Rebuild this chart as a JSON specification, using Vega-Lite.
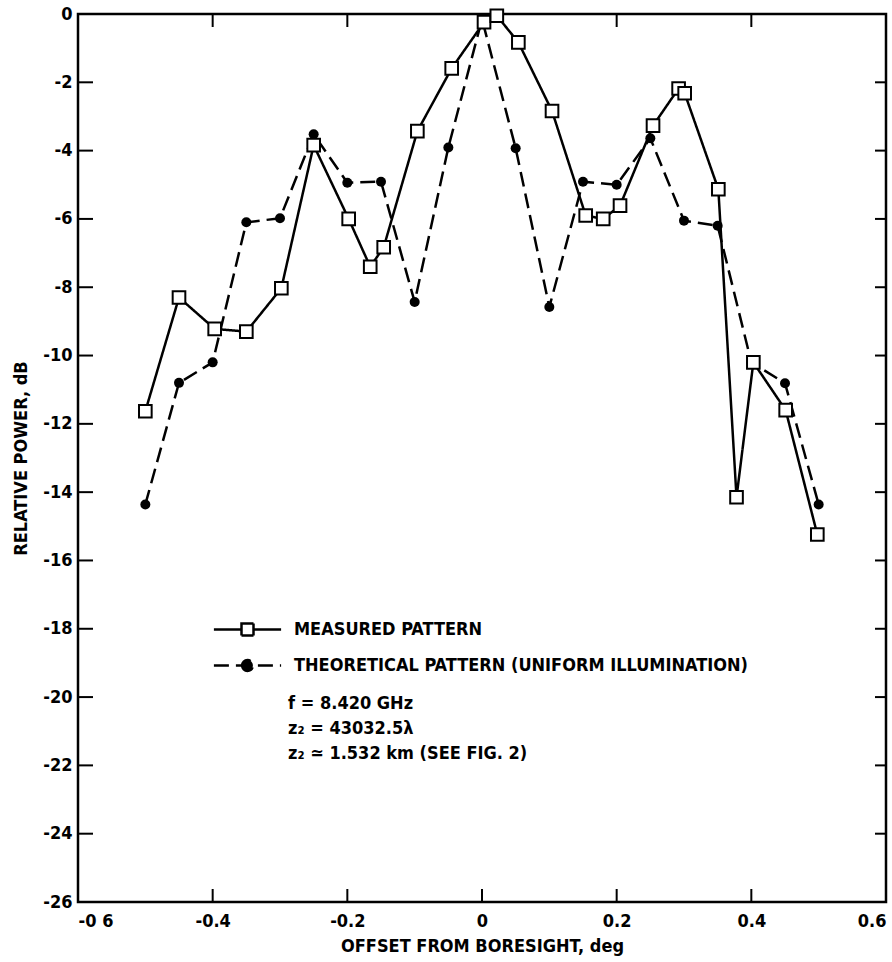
{
  "$schema": "https://vega.github.io/schema/vega-lite/v6.json",
  "width": 808,
  "height": 888,
  "autosize": {"type": "none"},
  "padding": {"left": 78, "top": 14, "right": 6, "bottom": 60},
  "background": "white",
  "config": {
    "view": {"stroke": "black", "strokeWidth": 2.5},
    "font": "DejaVu Sans Condensed",
    "axis": {
      "labelFont": "DejaVu Sans Condensed",
      "titleFont": "DejaVu Sans Condensed",
      "labelFontSize": 18,
      "titleFontSize": 18,
      "labelFontWeight": "bold",
      "titleFontWeight": "bold",
      "labelColor": "black",
      "titleColor": "black",
      "domain": false,
      "ticks": false,
      "grid": false
    },
    "legend": {
      "labelFont": "DejaVu Sans Condensed",
      "labelFontSize": 18,
      "labelFontWeight": "bold",
      "labelColor": "black"
    }
  },
  "datasets": {
    "xticks": [{"v": -0.4}, {"v": -0.2}, {"v": 0}, {"v": 0.2}, {"v": 0.4}],
    "yticks": [{"v": -24}, {"v": -22}, {"v": -20}, {"v": -18}, {"v": -16}, {"v": -14}, {"v": -12}, {"v": -10}, {"v": -8}, {"v": -6}, {"v": -4}, {"v": -2}]
  },
  "data": {
    "values": [
      {"x": -0.5, "y": -14.36, "series": "THEORETICAL PATTERN (UNIFORM ILLUMINATION)"},
      {"x": -0.45, "y": -10.8, "series": "THEORETICAL PATTERN (UNIFORM ILLUMINATION)"},
      {"x": -0.4, "y": -10.2, "series": "THEORETICAL PATTERN (UNIFORM ILLUMINATION)"},
      {"x": -0.35, "y": -6.1, "series": "THEORETICAL PATTERN (UNIFORM ILLUMINATION)"},
      {"x": -0.3, "y": -5.98, "series": "THEORETICAL PATTERN (UNIFORM ILLUMINATION)"},
      {"x": -0.25, "y": -3.52, "series": "THEORETICAL PATTERN (UNIFORM ILLUMINATION)"},
      {"x": -0.2, "y": -4.94, "series": "THEORETICAL PATTERN (UNIFORM ILLUMINATION)"},
      {"x": -0.15, "y": -4.91, "series": "THEORETICAL PATTERN (UNIFORM ILLUMINATION)"},
      {"x": -0.1, "y": -8.43, "series": "THEORETICAL PATTERN (UNIFORM ILLUMINATION)"},
      {"x": -0.05, "y": -3.91, "series": "THEORETICAL PATTERN (UNIFORM ILLUMINATION)"},
      {"x": 0.0, "y": -0.15, "series": "THEORETICAL PATTERN (UNIFORM ILLUMINATION)"},
      {"x": 0.05, "y": -3.93, "series": "THEORETICAL PATTERN (UNIFORM ILLUMINATION)"},
      {"x": 0.1, "y": -8.58, "series": "THEORETICAL PATTERN (UNIFORM ILLUMINATION)"},
      {"x": 0.15, "y": -4.91, "series": "THEORETICAL PATTERN (UNIFORM ILLUMINATION)"},
      {"x": 0.2, "y": -5.0, "series": "THEORETICAL PATTERN (UNIFORM ILLUMINATION)"},
      {"x": 0.25, "y": -3.64, "series": "THEORETICAL PATTERN (UNIFORM ILLUMINATION)"},
      {"x": 0.3, "y": -6.05, "series": "THEORETICAL PATTERN (UNIFORM ILLUMINATION)"},
      {"x": 0.35, "y": -6.2, "series": "THEORETICAL PATTERN (UNIFORM ILLUMINATION)"},
      {"x": 0.4, "y": -10.2, "series": "THEORETICAL PATTERN (UNIFORM ILLUMINATION)"},
      {"x": 0.45, "y": -10.81, "series": "THEORETICAL PATTERN (UNIFORM ILLUMINATION)"},
      {"x": 0.5, "y": -14.36, "series": "THEORETICAL PATTERN (UNIFORM ILLUMINATION)"},
      {"x": -0.5, "y": -11.63, "series": "MEASURED PATTERN"},
      {"x": -0.45, "y": -8.3, "series": "MEASURED PATTERN"},
      {"x": -0.397, "y": -9.22, "series": "MEASURED PATTERN"},
      {"x": -0.35, "y": -9.3, "series": "MEASURED PATTERN"},
      {"x": -0.298, "y": -8.03, "series": "MEASURED PATTERN"},
      {"x": -0.25, "y": -3.84, "series": "MEASURED PATTERN"},
      {"x": -0.198, "y": -6.0, "series": "MEASURED PATTERN"},
      {"x": -0.166, "y": -7.4, "series": "MEASURED PATTERN"},
      {"x": -0.146, "y": -6.83, "series": "MEASURED PATTERN"},
      {"x": -0.096, "y": -3.43, "series": "MEASURED PATTERN"},
      {"x": -0.045, "y": -1.59, "series": "MEASURED PATTERN"},
      {"x": 0.003, "y": -0.24, "series": "MEASURED PATTERN"},
      {"x": 0.022, "y": -0.05, "series": "MEASURED PATTERN"},
      {"x": 0.054, "y": -0.83, "series": "MEASURED PATTERN"},
      {"x": 0.104, "y": -2.84, "series": "MEASURED PATTERN"},
      {"x": 0.154, "y": -5.9, "series": "MEASURED PATTERN"},
      {"x": 0.18, "y": -6.0, "series": "MEASURED PATTERN"},
      {"x": 0.205, "y": -5.61, "series": "MEASURED PATTERN"},
      {"x": 0.254, "y": -3.27, "series": "MEASURED PATTERN"},
      {"x": 0.292, "y": -2.18, "series": "MEASURED PATTERN"},
      {"x": 0.301, "y": -2.32, "series": "MEASURED PATTERN"},
      {"x": 0.351, "y": -5.13, "series": "MEASURED PATTERN"},
      {"x": 0.378, "y": -14.15, "series": "MEASURED PATTERN"},
      {"x": 0.403, "y": -10.2, "series": "MEASURED PATTERN"},
      {"x": 0.451, "y": -11.6, "series": "MEASURED PATTERN"},
      {"x": 0.498, "y": -15.24, "series": "MEASURED PATTERN"}
    ]
  },
  "layer": [
    {
      "mark": {"type": "line", "color": "black", "strokeWidth": 2.5},
      "encoding": {
        "x": {
          "field": "x", "type": "quantitative",
          "scale": {"domain": [-0.6, 0.6], "nice": false, "zero": false},
          "axis": {
            "orient": "bottom",
            "values": [-0.6, -0.4, -0.2, 0, 0.2, 0.4, 0.6],
            "labelPadding": 10,
            "labelFlush": true,
            "labelExpr": "datum.value == -0.6 ? '-0 6' : (datum.value == 0 ? '0' : (datum.value < 0 ? '-' : '') + format(abs(datum.value), '.1f'))",
            "title": "OFFSET FROM BORESIGHT, deg",
            "titlePadding": 7
          }
        },
        "y": {
          "field": "y", "type": "quantitative",
          "scale": {"domain": [-26, 0], "nice": false, "zero": false},
          "axis": {
            "orient": "left",
            "values": [-26, -24, -22, -20, -18, -16, -14, -12, -10, -8, -6, -4, -2, 0],
            "labelPadding": 6,
            "labelFlush": false,
            "labelExpr": "datum.value == 0 ? '0' : '-' + abs(datum.value)",
            "title": "RELATIVE POWER, dB",
            "titlePadding": 12
          }
        },
        "detail": {"field": "series"},
        "strokeDash": {
          "field": "series", "type": "nominal",
          "scale": {
            "domain": ["MEASURED PATTERN", "THEORETICAL PATTERN (UNIFORM ILLUMINATION)"],
            "range": [[1, 0], [15, 7]]
          },
          "legend": {
            "orient": "none",
            "legendX": 156,
            "legendY": 602,
            "title": null,
            "padding": 0,
            "symbolSize": 576,
            "symbolStrokeWidth": 2.5,
            "symbolStrokeColor": "black",
            "rowPadding": 11,
            "labelOffset": 33,
            "labelLimit": 600,
            "encode": {
              "symbols": {
                "update": {
                  "shape": {"signal": "datum.value === 'MEASURED PATTERN' ? 'M-2.8,0H-0.5M-0.5,-0.5H0.5V0.5H-0.5ZM0.5,0H2.8' : 'M-2.8,0H2.8M-0.45,0A0.45,0.45,0,1,0,0.45,0A0.45,0.45,0,1,0,-0.45,0Z'"},
                  "fill": {"signal": "datum.value === 'MEASURED PATTERN' ? 'white' : 'black'"},
                  "fillOpacity": {"value": 1},
                  "stroke": {"value": "black"},
                  "strokeWidth": {"value": 2.5}
                }
              }
            }
          }
        }
      }
    },
    {
      "data": {"name": "xticks"},
      "mark": {"type": "tick", "orient": "vertical", "color": "black", "size": 13, "thickness": 2, "yOffset": -6.5, "opacity": 1},
      "encoding": {
        "x": {"field": "v", "type": "quantitative"},
        "y": {"datum": -26, "type": "quantitative"}
      }
    },
    {
      "data": {"name": "xticks"},
      "mark": {"type": "tick", "orient": "vertical", "color": "black", "size": 13, "thickness": 2, "yOffset": 6.5, "opacity": 1},
      "encoding": {
        "x": {"field": "v", "type": "quantitative"},
        "y": {"datum": 0, "type": "quantitative"}
      }
    },
    {
      "data": {"name": "yticks"},
      "mark": {"type": "tick", "orient": "horizontal", "color": "black", "size": 15, "thickness": 2, "xOffset": 7.5, "opacity": 1},
      "encoding": {
        "y": {"field": "v", "type": "quantitative"},
        "x": {"datum": -0.6, "type": "quantitative"}
      }
    },
    {
      "data": {"name": "yticks"},
      "mark": {"type": "tick", "orient": "horizontal", "color": "black", "size": 11, "thickness": 2, "xOffset": -5.5, "opacity": 1},
      "encoding": {
        "y": {"field": "v", "type": "quantitative"},
        "x": {"datum": 0.6, "type": "quantitative"}
      }
    },
    {
      "transform": [{"filter": "datum.series === 'THEORETICAL PATTERN (UNIFORM ILLUMINATION)'"}],
      "mark": {"type": "point", "shape": "circle", "filled": true, "color": "black", "size": 100, "opacity": 1},
      "encoding": {
        "x": {"field": "x", "type": "quantitative"},
        "y": {"field": "y", "type": "quantitative"}
      }
    },
    {
      "transform": [{"filter": "datum.series === 'MEASURED PATTERN'"}],
      "mark": {"type": "point", "shape": "square", "filled": false, "fill": "white", "fillOpacity": 1, "stroke": "black", "strokeWidth": 2, "size": 160, "opacity": 1},
      "encoding": {
        "x": {"field": "x", "type": "quantitative"},
        "y": {"field": "y", "type": "quantitative"}
      }
    },
    {
      "data": {"values": [{}]},
      "mark": {"type": "text", "align": "left", "baseline": "top", "lineHeight": 25, "fontSize": 18, "fontWeight": "bold", "font": "DejaVu Sans Condensed", "color": "black"},
      "encoding": {
        "x": {"datum": -0.288, "type": "quantitative"},
        "y": {"datum": -19.95, "type": "quantitative"},
        "text": {"value": ["f = 8.420 GHz", "z₂ = 43032.5λ", "z₂ ≃ 1.532 km (SEE FIG. 2)"]}
      }
    }
  ]
}
